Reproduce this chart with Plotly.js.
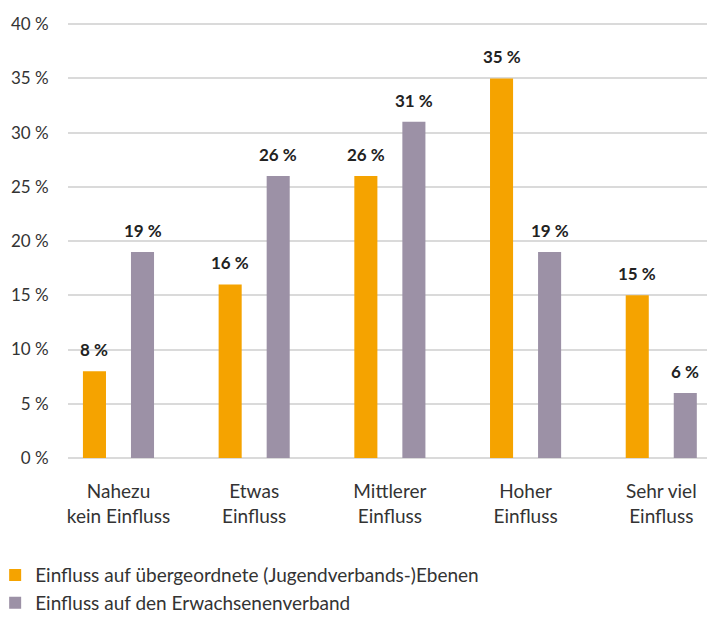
<!DOCTYPE html>
<html>
<head>
<meta charset="utf-8">
<script src="https://cdn.plot.ly/plotly-3.0.1.min.js"></script>
<style>html,body{margin:0;padding:0;background:#fff;}#chart{width:707px;height:634px;}</style>
</head>
<body>
<div id="chart"></div>
<script>
const categories = ["Nahezu<br>kein Einfluss", "Etwas<br>Einfluss", "Mittlerer<br>Einfluss", "Hoher<br>Einfluss", "Sehr viel<br>Einfluss"];
const seriesNames = ["Einfluss auf übergeordnete (Jugendverbands-)Ebenen", "Einfluss auf den Erwachsenenverband"];
const uebergeordnet = [8, 16, 26, 35, 15];
const erwachsenenverband = [19, 26, 31, 19, 6];
const yTickVals = [0, 5, 10, 15, 20, 25, 30, 35, 40];
const yTickText = ["0 %", "5 %", "10 %", "15 %", "20 %", "25 %", "30 %", "35 %", "40 %"];

const colors = ["#F5A300", "#9C91A6"];
const FONT = "Lato, 'Open Sans', sans-serif";
const GRID = "#dadada";

const traces = [uebergeordnet, erwachsenenverband].map((vals, k) => ({
  type: "bar",
  name: seriesNames[k],
  x: categories,
  y: vals,
  marker: {color: colors[k], line: {width: 0}}
}));

const annotations = [];
[uebergeordnet, erwachsenenverband].forEach((vals, k) => {
  vals.forEach((v, i) => {
    annotations.push({
      xref: "x", yref: "y",
      x: i + (k === 0 ? -0.177 : 0.177),
      y: v,
      text: v + " %",
      showarrow: false,
      yanchor: "bottom",
      yshift: 9,
      font: {family: FONT, size: 17, color: "#222", weight: "bold"}
    });
  });
});

const layout = {
  width: 707, height: 634,
  margin: {l: 68, r: 0, t: 22, b: 176, autoexpand: false},
  paper_bgcolor: "#ffffff", plot_bgcolor: "#ffffff",
  barmode: "group",
  bargap: 0.292,
  bargroupgap: 0.52,
  showlegend: true,
  hovermode: false,
  font: {family: FONT, size: 17, color: "#333"},
  xaxis: {
    type: "category",
    range: [-0.372, 4.337],
    showgrid: false, zeroline: false, showline: false,
    ticks: "outside", ticklen: 16, tickcolor: "rgba(0,0,0,0)", tickangle: 0,
    tickfont: {family: FONT, size: 19, color: "#333"}
  },
  yaxis: {
    range: [0, 40.2],
    tickvals: yTickVals, ticktext: yTickText,
    showgrid: true, gridcolor: GRID, gridwidth: 1.5,
    zeroline: true, zerolinecolor: GRID, zerolinewidth: 1.5,
    showline: false,
    ticks: "outside", ticklen: 15, tickcolor: "rgba(0,0,0,0)",
    tickfont: {family: FONT, size: 17, color: "#333"}
  },
  legend: {
    x: -0.114, y: -0.225, xanchor: "left", yanchor: "top",
    orientation: "v",
    font: {family: FONT, size: 19, color: "#333"},
    tracegroupgap: 0
  },
  annotations: annotations
};

Plotly.newPlot("chart", traces, layout, {displayModeBar: false});
</script>
</body>
</html>
